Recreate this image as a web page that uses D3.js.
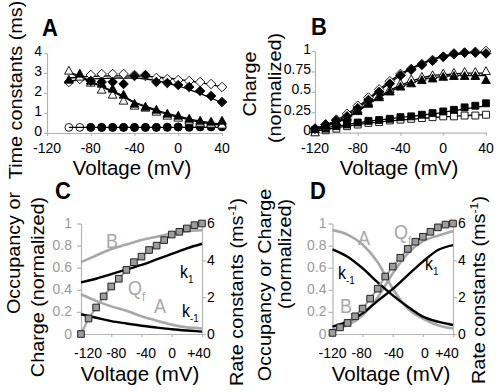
<!DOCTYPE html>
<html><head><meta charset="utf-8">
<script src="https://cdn.jsdelivr.net/npm/d3@7"></script>
<style>body{margin:0;background:#fff}svg{display:block}</style>
</head><body>
<svg id="c" width="498" height="392"></svg>
<script>
// ---------------- DATA ----------------
// Panel A : time constants (ms)
const voltsA = [-100,-90,-80,-70,-60,-50,-40,-30,-20,-10,0,10,20,30,40];
const voltsA2 = [-80,-70,-60,-50,-40,-30,-20,-10,0,10,20,30,40];
const A_openCircle   = [0.28,0.28,0.28,0.28,0.28,0.28,0.28,0.28,0.28,0.3,0.3,0.32,0.32,0.33,0.34];
const A_filledCircle = [0.28,0.28,0.28,0.28,0.28,0.28,0.28,0.28,0.3,0.28,0.3,0.3,0.3];
const A_openTri      = [3.1,2.8,2.5,2.15,1.9,1.6,1.35,1.25,1.05,0.85,0.75,0.6,0.5,0.45,0.4];
const A_filledTri    = [2.65,2.95,2.6,2.45,2.2,1.9,1.45,1.3,1.15,0.95,0.85,0.7,0.6,0.55,0.6];
const A_openDiamond  = [2.55,2.7,2.9,2.95,2.95,2.95,2.9,2.85,2.75,2.7,2.65,2.6,2.55,2.45,2.3];
const A_filledDiamond= [2.6,2.55,2.55,2.45,2.85,2.9,2.55,2.5,2.4,2.3,2.1,1.85,1.55];
const A_fitOpenDiamond   = [2.75,2.8,2.83,2.85,2.86,2.86,2.85,2.83,2.8,2.75,2.68,2.6,2.52,2.42,2.3];
const A_fitFilledDiamond = [2.6,2.65,2.7,2.72,2.74,2.75,2.74,2.7,2.62,2.5,2.35,2.17,1.97,1.75,1.5];
const A_fitTri1 = [3.05,2.85,2.6,2.35,2.1,1.85,1.55,1.35,1.15,0.98,0.84,0.71,0.6,0.51,0.44];
const A_fitTri2 = [3.0,2.8,2.55,2.3,2.05,1.8,1.5,1.3,1.1,0.93,0.79,0.66,0.55,0.46,0.38];
const A_fitCircle = [0.28,0.28,0.28,0.28,0.28,0.28,0.28,0.28,0.28,0.28,0.28,0.28,0.28,0.28,0.28];
const ticksA_x = [-120,-80,-40,0,40];
const ticksA_y = [0,1,2,3,4];

// Panel B : normalized charge
const voltsB = [-120,-110,-100,-90,-80,-70,-60,-50,-40,-30,-20,-10,0,10,20,30,40];
const B_filledDiamond = [0.05,0.1,0.15,0.2,0.3,0.4,0.5,0.6,0.7,0.77,0.83,0.88,0.93,0.97,0.98,0.98,0.97];
const B_openDiamond   = [0.05,0.1,0.16,0.23,0.33,0.43,0.53,0.63,0.72,0.78,0.84,0.89,0.93,0.96,0.98,0.99,1.0];
const B_filledTri     = [0.04,0.08,0.12,0.18,0.26,0.35,0.43,0.5,0.56,0.6,0.64,0.66,0.68,0.69,0.69,0.69,0.64];
const B_openTri       = [0.0,0.07,0.13,0.2,0.28,0.37,0.45,0.53,0.6,0.65,0.68,0.7,0.72,0.73,0.74,0.74,0.75];
const B_filledSquare  = [0.03,0.05,0.08,0.1,0.125,0.145,0.155,0.17,0.19,0.2,0.22,0.24,0.26,0.28,0.31,0.33,0.36];
const B_openSquare    = [0.01,0.03,0.05,0.08,0.1,0.12,0.13,0.15,0.16,0.17,0.18,0.19,0.2,0.2,0.21,0.21,0.22];
const B_fitDiamond1 = [0.05,0.09,0.14,0.21,0.3,0.4,0.51,0.61,0.7,0.78,0.84,0.89,0.93,0.95,0.97,0.98,0.98];
const B_fitDiamond2 = [0.05,0.1,0.15,0.23,0.32,0.42,0.53,0.63,0.72,0.79,0.85,0.9,0.94,0.96,0.98,0.99,0.99];
const B_fitTri1 = [0.04,0.08,0.13,0.19,0.27,0.36,0.44,0.52,0.58,0.63,0.67,0.7,0.71,0.72,0.73,0.73,0.73];
const B_fitTri2 = [0.04,0.08,0.12,0.18,0.26,0.35,0.43,0.5,0.56,0.61,0.65,0.67,0.69,0.7,0.7,0.7,0.7];
const B_fitSquare1 = [0.04,0.06,0.08,0.1,0.12,0.14,0.155,0.17,0.185,0.2,0.215,0.23,0.25,0.27,0.29,0.31,0.33];
const B_fitSquare2 = [0.02,0.04,0.06,0.08,0.1,0.115,0.13,0.145,0.155,0.165,0.175,0.185,0.195,0.2,0.21,0.215,0.22];
const ticksB_x = [-120,-80,-40,0,40];
const ticksB_y = [0,0.25,0.5,0.75,1];
const ticksB_ylab = ["0","0.25","0.5","0.75","1"];

// Panels C and D : occupancy / charge and rate constants
const voltsCurve = [-120,-100,-80,-60,-40,-20,0,20,40];
const voltsQ = voltsB;
const C_A   = [0.36,0.3,0.25,0.21,0.16,0.12,0.085,0.06,0.05];
const C_B   = [0.65,0.71,0.77,0.81,0.85,0.88,0.91,0.93,0.94];
const C_k1  = [2.8,3.0,3.25,3.5,3.75,4.05,4.35,4.65,4.9];
const C_km1 = [1.07,0.88,0.7,0.57,0.45,0.35,0.26,0.19,0.13];
const C_Qf  = [0,0.14,0.24,0.34,0.43,0.5,0.58,0.65,0.7,0.76,0.8,0.85,0.9,0.925,0.955,0.985,1.0];
const D_A   = [0.94,0.9,0.81,0.65,0.41,0.23,0.14,0.08,0.05];
const D_B   = [0.04,0.08,0.17,0.33,0.55,0.73,0.84,0.89,0.93];
const D_k1  = [0.4,0.67,1.12,1.8,2.45,3.2,3.93,4.56,4.83];
const D_km1 = [4.6,4.2,3.57,2.8,2.1,1.48,0.94,0.67,0.49];
const D_Qf  = [0.01,0.06,0.1,0.16,0.23,0.32,0.41,0.52,0.61,0.69,0.77,0.835,0.88,0.925,0.965,0.99,1.0];
const ticksCD_x = [-120,-80,-40,0,40];
const ticksCD_xlab = ["-120","-80","-40","0","+40"];
const ticksCD_y = [0,0.2,0.4,0.6,0.8,1];
const ticksCD_ylab = ["0","0.2","0.4","0.6","0.8","1"];
const ticksCD_r = [0,2,4,6];

// ---------------- DRAWING ----------------
const svg = d3.select('#c');
svg.append('rect').attr('width',498).attr('height',392).attr('fill','#fff');
const FONT = "'Liberation Sans', Arial, Helvetica, sans-serif";
const SY = 1.1;
const AXC = '#b4b4b4';
const GRAY = '#a8a8a8';

function rich(t, parts, size){
  parts.forEach(p=>{
    const s = t.append('tspan').text(p.t);
    if(p.sub){ s.attr('font-size', size*0.62).attr('dy', size*0.28); }
    else if(p.sup){ s.attr('font-size', size*0.62).attr('dy', -size*0.4); }
    else if(p.back){ s.attr('dy', p.back); }
  });
}
function htext(g, x, y, parts, size, o={}){
  const sy = o.sy || SY;
  const t = g.append('text').attr('transform',`translate(${x},${y}) scale(1,${sy})`)
    .attr('font-family',FONT).attr('font-size',size).attr('fill',o.fill||'#000')
    .attr('text-anchor',o.anchor||'middle').attr('font-weight',o.weight||'normal');
  if(typeof parts==='string') t.text(parts); else rich(t,parts,size);
  return t;
}
function vtext(g, x, y, parts, size, o={}){
  const t = g.append('text').attr('transform',`translate(${x},${y}) rotate(-90) scale(${SY},1)`)
    .attr('font-family',FONT).attr('font-size',size).attr('fill',o.fill||'#000')
    .attr('text-anchor',o.anchor||'middle');
  if(typeof parts==='string') t.text(parts); else rich(t,parts,size);
  return t;
}
const diamond = { draw(ctx,size){ const r=Math.sqrt(size/2); ctx.moveTo(0,-r); ctx.lineTo(r,0); ctx.lineTo(0,r); ctx.lineTo(-r,0); ctx.closePath(); } };
const tri = { draw(ctx,size){ const s=Math.sqrt(size); const h=s*0.9; ctx.moveTo(0,-h*0.6); ctx.lineTo(s/2,h*0.4); ctx.lineTo(-s/2,h*0.4); ctx.closePath(); } };
const SYM = {
  diamond: d3.symbol().type(diamond).size(46)(),
  tri: d3.symbol().type(tri).size(76)(),
  circle: d3.symbol().type(d3.symbolCircle).size(48)(),
  square: d3.symbol().type(d3.symbolSquare).size(48)(),
  qsquare: d3.symbol().type(d3.symbolSquare).size(44)()
};
function markers(g, xs, ys, x, y, sym, filled){
  g.append('g').selectAll('path').data(xs.map((v,i)=>[v,ys[i]])).join('path')
    .attr('d',SYM[sym]).attr('transform',d=>`translate(${x(d[0])},${y(d[1])})`)
    .attr('fill', filled==='none' ? 'none' : (filled ? '#000' : '#fff'))
    .attr('stroke','#000').attr('stroke-width', 0.9);
}
function curve(g, xs, ys, x, y, color, w, smooth){
  const line = d3.line().x(d=>x(d[0])).y(d=>y(d[1])).curve(smooth?d3.curveMonotoneX:d3.curveLinear);
  g.append('path').attr('d', line(xs.map((v,i)=>[v,ys[i]])))
    .attr('fill','none').attr('stroke',color).attr('stroke-width',w).attr('stroke-linejoin','round');
}
function styleAxis(ax){
  ax.select('.domain').attr('stroke',AXC).attr('stroke-width',1.2);
  ax.selectAll('.tick line').attr('stroke',AXC).attr('stroke-width',1.2);
}

// ---- Panel A ----
{
  const g = svg.append('g');
  const x = d3.scaleLinear([-120,40],[47,222]);
  const y = d3.scaleLinear([0,4],[133,53]);
  styleAxis(g.append('g').attr('transform',`translate(0,${y(0)})`).call(d3.axisBottom(x).tickValues(ticksA_x).tickSize(3).tickSizeOuter(0).tickFormat('')));
  styleAxis(g.append('g').attr('transform',`translate(${x(-120)},0)`).call(d3.axisLeft(y).tickValues(ticksA_y).tickSize(3).tickSizeOuter(0).tickFormat('')));
  ticksA_x.forEach(v=>htext(g, x(v), 153, String(v), 14));
  ticksA_y.forEach(v=>htext(g, x(-120)-5, y(v)+2.5, String(v), 14, {anchor:'end'}));
  curve(g, voltsA, A_fitCircle, x, y, '#000', 1.3, true);
  curve(g, voltsA, A_fitTri1, x, y, '#000', 1.3, true);
  curve(g, voltsA, A_fitTri2, x, y, '#000', 1.3, true);
  curve(g, voltsA, A_fitOpenDiamond, x, y, '#000', 1.3, true);
  curve(g, voltsA, A_fitFilledDiamond, x, y, '#000', 1.3, true);
  markers(g, voltsA, A_openCircle, x, y, 'circle', 'none');
  markers(g, voltsA2, A_filledCircle, x, y, 'circle', true);
  markers(g, voltsA, A_openDiamond, x, y, 'diamond', false);
  markers(g, voltsA, A_openTri, x, y, 'tri', false);
  markers(g, voltsA, A_filledTri, x, y, 'tri', true);
  markers(g, voltsA2, A_filledDiamond, x, y, 'diamond', true);
  htext(g, 42, 36, 'A', 22, {anchor:'start', weight:'bold'});
  htext(g, 132, 174.5, 'Voltage (mV)', 20.5, {sy:1});
  vtext(g, 21.5, 90, 'Time constants (ms)', 18);
}
// ---- Panel B ----
{
  const g = svg.append('g');
  const x = d3.scaleLinear([-120,40],[315,486]);
  const y = d3.scaleLinear([0,1],[132.7,51]);
  styleAxis(g.append('g').attr('transform',`translate(0,${y(0)})`).call(d3.axisBottom(x).tickValues(ticksB_x).tickSize(3).tickSizeOuter(0).tickFormat('')));
  styleAxis(g.append('g').attr('transform',`translate(${x(-120)},0)`).call(d3.axisLeft(y).tickValues(ticksB_y).tickSize(3).tickSizeOuter(0).tickFormat('')));
  ticksB_x.forEach(v=>htext(g, x(v), 153, String(v), 14));
  ticksB_y.forEach((v,i)=>htext(g, x(-120)-4, y(v)+2.5, ticksB_ylab[i], 14, {anchor:'end'}));
  [B_fitSquare2,B_fitSquare1,B_fitTri1,B_fitTri2,B_fitDiamond1,B_fitDiamond2].forEach(s=>curve(g, voltsB, s, x, y, '#000', 1.3, true));
  markers(g, voltsB, B_openSquare, x, y, 'square', false);
  markers(g, voltsB, B_filledSquare, x, y, 'square', true);
  markers(g, voltsB, B_openTri, x, y, 'tri', false);
  markers(g, voltsB, B_filledTri, x, y, 'tri', true);
  markers(g, voltsB, B_openDiamond, x, y, 'diamond', false);
  markers(g, voltsB, B_filledDiamond, x, y, 'diamond', true);
  htext(g, 311, 35, 'B', 22, {anchor:'start', weight:'bold'});
  htext(g, 399, 174.5, 'Voltage (mV)', 20.5, {sy:1});
  vtext(g, 256, 84, 'Charge', 18);
  vtext(g, 281, 88, '(normalized)', 18);
}
// ---- Panels C, D ----
function panelCD(cfg){
  const g = svg.append('g');
  const x = d3.scaleLinear([-120,40],[cfg.x0,cfg.x1]);
  const y = d3.scaleLinear([0,1],[334,223.5]);
  const yr = d3.scaleLinear([0,6],[334,223.5]);
  styleAxis(g.append('g').attr('transform',`translate(0,${y(0)})`).call(d3.axisBottom(x).tickValues(ticksCD_x).tickSize(3).tickSizeOuter(0).tickFormat('')));
  styleAxis(g.append('g').attr('transform',`translate(${cfg.x0},0)`).call(d3.axisLeft(y).tickValues(ticksCD_y).tickSize(4).tickSizeOuter(0).tickFormat('')));
  styleAxis(g.append('g').attr('transform',`translate(${cfg.x1},0)`).call(d3.axisRight(yr).tickValues(ticksCD_r).tickSize(4).tickSizeOuter(0).tickFormat('')));
  ticksCD_x.forEach((v,i)=>htext(g, x(v)+cfg.nudge[i], 358, ticksCD_xlab[i], 14));
  ticksCD_y.forEach((v,i)=>htext(g, cfg.x0-cfg.lpad, y(v)+4.5, ticksCD_ylab[i], 14, {anchor:'end', fill:'#9a9a9a'}));
  ticksCD_r.forEach(v=>htext(g, cfg.x1+5, yr(v)+4.5, String(v), 14, {anchor:'start'}));
  curve(g, voltsCurve, cfg.A, x, y, GRAY, 2.6, true);
  curve(g, voltsCurve, cfg.B, x, y, GRAY, 2.6, true);
  curve(g, voltsCurve, cfg.k1, x, yr, '#000', 2.4, true);
  curve(g, voltsCurve, cfg.km1, x, yr, '#000', 2.4, true);
  curve(g, voltsQ, cfg.Qf, x, y, GRAY, 2.2, false);
  g.append('g').selectAll('path').data(voltsQ.map((v,i)=>[v,cfg.Qf[i]])).join('path')
    .attr('d',SYM.qsquare).attr('transform',d=>`translate(${x(d[0])},${y(d[1])})`)
    .attr('fill','#9c9c9c').attr('stroke','#222').attr('stroke-width',1);
  cfg.labels.forEach(l=>htext(g, l.x, l.y, l.parts, l.size, {fill:l.fill, anchor:'start'}));
  htext(g, cfg.tx, 199, cfg.title, 22, {anchor:'start', weight:'bold'});
  htext(g, cfg.vx, 380.5, 'Voltage (mV)', 20.5, {sy:1});
  cfg.ylab.forEach(l=>vtext(g, l.x, l.y, l.t, 18));
  vtext(g, cfg.rx, cfg.ry, [{t:'Rate constants (ms'},{t:'-1',sup:true},{t:')',back:18*0.4}], 18);
}
panelCD({x0:81, x1:202, nudge:[7,5,4.5,0.5,-3], lpad:9, A:C_A, B:C_B, k1:C_k1, km1:C_km1, Qf:C_Qf,
  title:'C', tx:55, vx:140, rx:243, ry:292,
  ylab:[{x:20,y:253,t:'Occupancy or'},{x:44,y:287,t:'Charge (normalized)'}],
  labels:[
    {x:106,y:248,parts:'B',size:18,fill:GRAY},
    {x:180,y:278,parts:[{t:'k'},{t:'1',sub:true}],size:16,fill:'#000'},
    {x:128,y:295,parts:[{t:'Q'},{t:'f',sub:true}],size:18,fill:GRAY},
    {x:154,y:313,parts:'A',size:18,fill:GRAY},
    {x:182,y:317,parts:[{t:'k'},{t:'-1',sub:true}],size:16,fill:'#000'}
  ]});
panelCD({x0:332.5, x1:453, nudge:[0,-1,1,2,-6], lpad:6, A:D_A, B:D_B, k1:D_k1, km1:D_km1, Qf:D_Qf,
  title:'D', tx:310, vx:391, rx:485, ry:290,
  ylab:[{x:271,y:285,t:'Occupancy or Charge'},{x:291,y:254,t:'(normalized)'}],
  labels:[
    {x:358,y:245,parts:'A',size:18,fill:GRAY},
    {x:394,y:239,parts:[{t:'Q'},{t:'f',sub:true}],size:18,fill:GRAY},
    {x:425,y:270,parts:[{t:'k'},{t:'1',sub:true}],size:16,fill:'#000'},
    {x:338,y:279,parts:[{t:'k'},{t:'-1',sub:true}],size:16,fill:'#000'},
    {x:340,y:313,parts:'B',size:18,fill:GRAY}
  ]});
</script>
</body></html>
